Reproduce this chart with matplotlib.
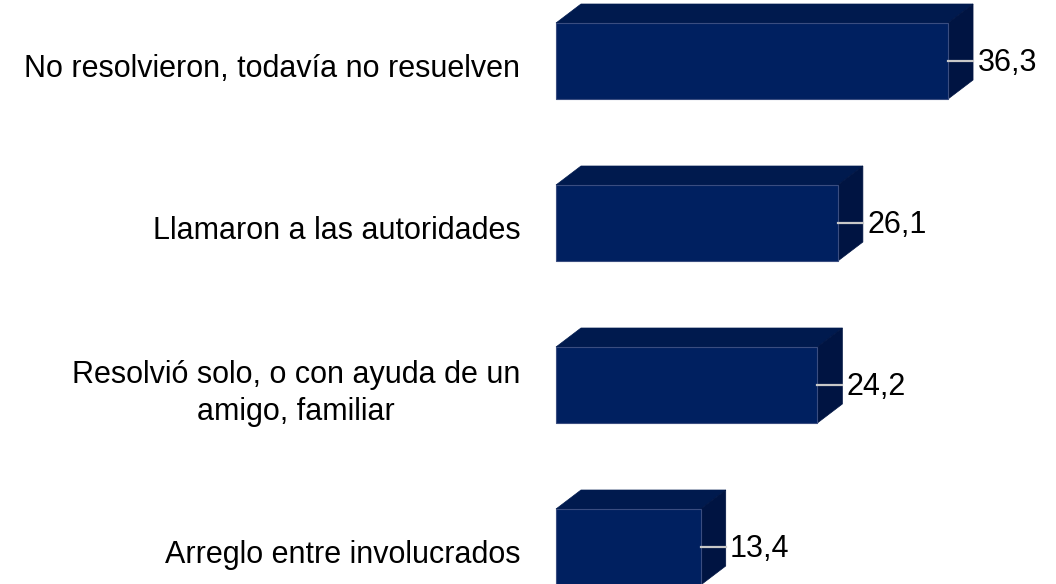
import numpy as np
import matplotlib.pyplot as plt
from matplotlib.patches import Polygon

plt.rcParams['font.family'] = ['Liberation Sans', 'DejaVu Sans']

categorias = ["No resolvieron, todavía no resuelven",
              "Llamaron a las autoridades",
              "Resolvió solo, o con ayuda de un\namigo, familiar",
              "Arreglo entre involucrados"]
valores = [36.3, 26.1, 24.2, 13.4]
etiquetas = ["36,3", "26,1", "24,2", "13,4"]

frente = "#002060"
arriba = "#001a4e"
lado = "#001442"

fig = plt.figure(figsize=(10.56, 5.84), dpi=100)
ax = fig.add_axes([0, 0, 1, 1])

# escala: 10.8 px por unidad en x, 162 px entre barras en y
ax.set_xlim(-556 / 10.8, 500 / 10.8)
ax.set_ylim((584 - 61) / 162, -61 / 162)
ax.axis('off')

alto = 76 / 162
dx = 25 / 10.8
dy = -19 / 162

pos = np.arange(len(valores))
ax.barh(pos, valores, height=alto, color=frente, edgecolor="#3a4d80",
        linewidth=0.8, zorder=3)

for y, v, et, cat in zip(pos, valores, etiquetas, categorias):
    y0 = y - alto / 2
    y1 = y + alto / 2
    # cara superior
    ax.add_patch(Polygon([(0, y0), (dx, y0 + dy), (v + dx, y0 + dy), (v, y0)],
                         closed=True, facecolor=arriba, edgecolor=arriba,
                         linewidth=0.5, zorder=2))
    # cara lateral
    ax.add_patch(Polygon([(v, y0), (v + dx, y0 + dy), (v + dx, y1 + dy), (v, y1)],
                         closed=True, facecolor=lado, edgecolor=lado,
                         linewidth=0.5, zorder=2))
    # línea guía del valor
    ax.plot([v, v + dx], [y, y], color="#c8c8c8", linewidth=1.6, zorder=4)
    ax.text(v + dx + 0.4, y + 0.01, et, fontsize=22, va='center', ha='left')
    ax.text(-3.3, y + 0.05, cat, fontsize=22, va='center', ha='right',
            multialignment='center', linespacing=1.3)

fig.savefig("out.png", dpi=100)
